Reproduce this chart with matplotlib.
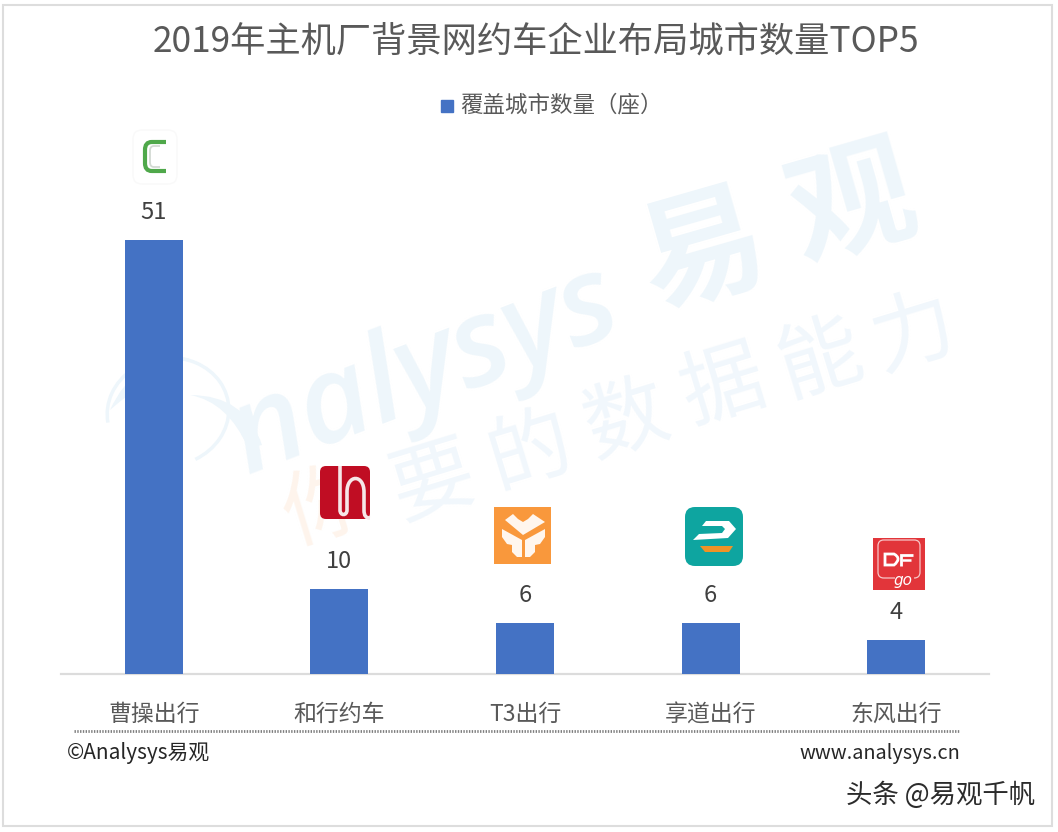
import matplotlib
matplotlib.use("Agg")
import matplotlib.pyplot as plt
from matplotlib.patches import FancyBboxPatch, Rectangle, Polygon, Arc, PathPatch
from matplotlib.path import Path
plt.rcParams['font.family'] = ['Noto Sans CJK SC', 'DejaVu Sans']

title = "2019年主机厂背景网约车企业布局城市数量TOP5"
series_name = "覆盖城市数量（座）"
categories = ["曹操出行", "和行约车", "T3出行", "享道出行", "东风出行"]
values = [51, 10, 6, 6, 4]

W, H = 1058, 832
BAR = "#4472C4"
TXT = "#595959"
fig = plt.figure(figsize=(W/100, H/100), dpi=100, facecolor="white")

# background layer in pixel coordinates: frame and watermark
bg = fig.add_axes([0, 0, 1, 1], zorder=0)
bg.set_xlim(0, W); bg.set_ylim(H, 0); bg.axis("off")
bg.add_patch(Rectangle((3, 5), 1049, 821, fill=False, ec="#DDDDDD", lw=1.5))

wm = "#EEF6FB"
bg.text(425, 372, "nalysys", fontsize=88, fontweight="semibold", style="italic", color=wm, rotation=21,
        ha="center", va="center", family=["Open Sans", "DejaVu Sans"], rotation_mode="anchor")
for ch, x, y in [("易", 703, 253), ("观", 853, 207)]:
    bg.text(x, y, ch, fontsize=90, fontweight="bold", color=wm, rotation=16,
            ha="center", va="center", rotation_mode="anchor")
bg.add_patch(Arc((168, 412), 122, 108, angle=-10, theta1=-180, theta2=70, ec=wm, lw=2.5))
bg.add_patch(PathPatch(Path([(110, 410), (135, 355), (190, 358), (150, 375), (110, 410)],
                            [Path.MOVETO, Path.CURVE3, Path.CURVE3, Path.CURVE3, Path.CURVE3]), fc=wm, ec="none"))
bg.add_patch(PathPatch(Path([(190, 395), (245, 395), (262, 445), (248, 448), (228, 402), (190, 395)],
                            [Path.MOVETO, Path.CURVE3, Path.CURVE3, Path.LINETO, Path.CURVE3, Path.CURVE3]), fc=wm, ec="none"))
bg.text(325, 508, "你", fontsize=60, color="#FEF4EC", rotation=17, ha="center", va="center", rotation_mode="anchor")
for ch, x, y in [("要", 433, 483), ("的", 530, 452), ("数", 627, 420),
                 ("据", 723, 387), ("能", 820, 360), ("力", 913, 333)]:
    bg.text(x, y, ch, fontsize=60, color="#F1F7FC", rotation=17, ha="center", va="center", rotation_mode="anchor")

# chart
y_scale = 434 / 51
ax = fig.add_axes([61/W, 1-674/H, 928/W, 544/H], zorder=1)
ax.patch.set_alpha(0)
ax.set_xlim(-0.5, 4.5); ax.set_ylim(0, 544 / y_scale)
bars = ax.bar(categories, values, width=0.3125, color=BAR, label=series_name, zorder=3)
for s in ["top", "left", "right"]:
    ax.spines[s].set_visible(False)
ax.spines["bottom"].set_color("#DCDCDC"); ax.spines["bottom"].set_linewidth(1.6)
ax.set_yticks([])
ax.tick_params(axis="x", length=0, pad=21, labelsize=16.5, labelcolor=TXT)
for r, v in zip(bars, values):
    ax.annotate(str(v), (r.get_x()+r.get_width()/2, v), xytext=(0, 11.4), textcoords="offset points",
                ha="center", va="bottom", fontsize=17, color="#404040")

fig.text(536/W, 1-42/H, title, fontsize=25.4, color=TXT, ha="center", va="center")
fg = fig.add_axes([0, 0, 1, 1], zorder=2)
fg.set_xlim(0, W); fg.set_ylim(H, 0); fg.axis("off")
fg.add_patch(Rectangle((441, 100), 12, 12, color=BAR))
fg.text(460, 105, series_name, fontsize=16.2, color=TXT, ha="left", va="center")

# footer
fg.plot([74, 960], [731, 731], color="#7F7F7F", lw=2, ls=(0, (0.5, 0.5)))
fg.text(67, 753, "©Analysys易观", fontsize=15, color="#262626", ha="left", va="center")
fg.text(960, 753, "www.analysys.cn", fontsize=14.3, color="#262626", ha="right", va="center")
fg.text(1035, 795, "头条 @易观千帆", fontsize=19, color="#2B2B2B", ha="right", va="center")

def rrect(x, y, w, h, r, **kw):
    fg.add_patch(FancyBboxPatch((x+r, y+r), w-2*r, h-2*r, boxstyle=f"round,pad={r},rounding_size={r}", **kw))

def curve(pts, **kw):
    codes = [Path.MOVETO] + [Path.CURVE4 if c else Path.LINETO for _, c in pts[1:]]
    fg.add_patch(PathPatch(Path([p for p, _ in pts], codes), fc="none", capstyle="butt", **kw))

# C logo
rrect(133, 130, 44, 54, 9, fc="white", ec="#F9F9F9", lw=1)
curve([((166, 142), 0), ((152, 142), 0), ((147, 142), 1), ((145, 145), 1), ((145, 150), 1), ((145, 163), 0),
       ((145, 168), 1), ((147, 171), 1), ((152, 171), 1), ((166, 171), 0)], ec="#4FA84A", lw=3)
curve([((160, 146), 0), ((154, 146), 0), ((151, 146), 1), ((150, 148), 1), ((150, 151), 1), ((150, 162), 0),
       ((150, 165), 1), ((151, 167), 1), ((154, 167), 1), ((160, 167), 0)], ec="#D3DAD3", lw=1.3)
# Hexing logo
rrect(320, 466, 50, 53, 6, fc="#C00D23", ec="none")
curve([((340, 466), 0), ((340, 510), 0), ((340, 516), 1), ((347, 516), 1), ((347, 510), 1), ((347, 492), 0),
       ((347, 474), 1), ((364, 474), 1), ((364, 492), 1), ((364, 510), 0), ((364, 516), 1), ((366, 518), 1), ((370, 518), 1)],
      ec="#F6E6E8", lw=2.6)
# T3 logo
fg.add_patch(Rectangle((494, 507), 57, 57, fc="#F9983C", ec="none"))
for pts in ([(505, 520), (513, 514), (518, 519), (523, 522), (528, 519), (533, 514), (545, 522), (523, 535)],
            [(502, 529), (522, 540), (522, 557), (517, 557), (512, 552), (512, 545), (507, 544), (502, 537)],
            [(545, 529), (525, 540), (525, 557), (530, 557), (535, 552), (535, 545), (540, 544), (545, 537)]):
    fg.add_patch(Polygon(pts, closed=True, fc="#FFF6EE", ec="none"))
# Xiangdao logo
rrect(685, 507, 58, 59, 10, fc="#0EA5A0", ec="none")
fg.add_patch(Polygon([(706, 521), (729, 521), (736, 529), (728, 538), (693, 540), (699, 534), (722, 533), (725, 529), (722, 526), (702, 526)],
                     closed=True, fc="white", ec="none"))
fg.add_patch(Polygon([(700, 546), (733, 546), (729, 552), (705, 552)], closed=True, fc="#EE9326", ec="none"))
# Dongfeng logo
fg.add_patch(Rectangle((873, 538), 52, 52, fc="#E2353A", ec="none"))
curve([((895, 578), 0), ((884, 578), 0), ((880, 578), 1), ((878, 576), 1), ((878, 572), 1), ((878, 546), 0),
       ((878, 542), 1), ((880, 540), 1), ((884, 540), 1), ((914, 540), 0), ((918, 540), 1), ((920, 542), 1),
       ((920, 546), 1), ((920, 572), 0), ((920, 576), 1), ((918, 578), 1), ((914, 578), 1)], ec="#F7C6C7", lw=0.9)
fg.add_patch(PathPatch(Path([(885, 554), (894, 554), (898, 556), (898, 559), (898, 562), (894, 565), (885, 565), (885, 554)],
                            [Path.MOVETO, Path.LINETO, Path.CURVE3, Path.CURVE3, Path.CURVE3, Path.CURVE3, Path.LINETO, Path.CLOSEPOLY]),
                       fc="none", ec="white", lw=2))
fg.plot([913, 901, 901], [555, 555, 566], color="white", lw=2, solid_capstyle="butt", solid_joinstyle="miter")
fg.plot([902, 911], [560, 560], color="white", lw=1.8, solid_capstyle="butt")
fg.text(903, 581, "go", fontsize=11, color="white", ha="center", va="center", style="italic", family=["DejaVu Sans"])

fig.savefig("out.png", dpi=100, facecolor="white")
